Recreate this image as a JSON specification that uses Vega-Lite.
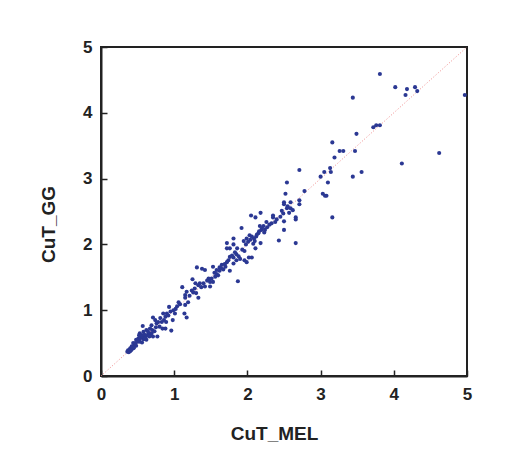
{
  "$schema": "https://vega.github.io/schema/vega-lite/v6.json",
  "width": 366,
  "height": 329,
  "autosize": "none",
  "padding": {"left": 101, "top": 47, "right": 38, "bottom": 74},
  "background": "white",
  "config": {
    "view": {"stroke": "#222222", "strokeWidth": 2},
    "axis": {
      "labelFont": "Liberation Sans",
      "labelFontWeight": "bold",
      "labelFontSize": 17,
      "labelColor": "#222222",
      "labelFlush": false,
      "titleFont": "Liberation Sans",
      "titleFontWeight": "bold",
      "titleFontSize": 19,
      "titleColor": "#222222",
      "domainColor": "#222222",
      "domainWidth": 2,
      "tickColor": "#222222",
      "tickWidth": 1.5,
      "tickSize": -6,
      "grid": false,
      "format": "d"
    }
  },
  "datasets": {
    "pts": [
      {"mel":3.81,"gg":4.59},{"mel":4.02,"gg":4.39},{"mel":4.18,"gg":4.36},{"mel":4.16,"gg":4.27},{"mel":4.29,"gg":4.39},{"mel":4.32,"gg":4.33},{"mel":4.97,"gg":4.27},{"mel":3.44,"gg":4.23},{"mel":3.72,"gg":3.78},{"mel":3.76,"gg":3.81},{"mel":3.81,"gg":3.81},{"mel":3.49,"gg":3.68},{"mel":4.62,"gg":3.39},{"mel":4.11,"gg":3.23},
      {"mel":3.16,"gg":3.55},{"mel":3.26,"gg":3.42},{"mel":3.31,"gg":3.42},{"mel":3.47,"gg":3.42},{"mel":3.19,"gg":3.32},{"mel":3.13,"gg":3.16},{"mel":3.14,"gg":3.10},{"mel":3.05,"gg":3.10},{"mel":3.00,"gg":3.03},{"mel":3.56,"gg":3.10},{"mel":3.44,"gg":3.03},{"mel":3.10,"gg":2.94},
      {"mel":2.71,"gg":3.13},{"mel":2.54,"gg":2.94},{"mel":2.78,"gg":2.81},{"mel":3.03,"gg":2.77},{"mel":3.06,"gg":2.74},{"mel":3.08,"gg":2.74},{"mel":3.16,"gg":2.41},{"mel":2.52,"gg":2.77},{"mel":2.71,"gg":2.67},{"mel":2.71,"gg":2.61},{"mel":2.59,"gg":2.64},{"mel":2.50,"gg":2.64},{"mel":2.50,"gg":2.61},{"mel":2.54,"gg":2.55},{"mel":2.59,"gg":2.55},{"mel":2.66,"gg":2.41},{"mel":2.66,"gg":2.38},{"mel":2.57,"gg":2.48},{"mel":2.47,"gg":2.51},{"mel":2.50,"gg":2.35},{"mel":2.50,"gg":2.22},{"mel":2.43,"gg":2.06},{"mel":2.66,"gg":2.02},
      {"mel":2.35,"gg":2.41},{"mel":2.35,"gg":2.44},{"mel":2.40,"gg":2.38},{"mel":2.33,"gg":2.32},{"mel":2.26,"gg":2.34},{"mel":2.18,"gg":2.48},{"mel":2.05,"gg":2.44},{"mel":2.11,"gg":2.41},{"mel":2.17,"gg":2.28},{"mel":2.22,"gg":2.28},{"mel":2.24,"gg":2.22},{"mel":2.19,"gg":2.22},{"mel":2.15,"gg":2.17},{"mel":2.12,"gg":2.12},{"mel":2.09,"gg":2.09},{"mel":2.03,"gg":2.14},{"mel":1.99,"gg":2.09},{"mel":2.01,"gg":2.04},{"mel":2.08,"gg":2.01},{"mel":2.18,"gg":2.02},{"mel":2.11,"gg":1.94},
      {"mel":1.92,"gg":2.25},{"mel":1.81,"gg":2.09},{"mel":1.72,"gg":2.02},{"mel":1.81,"gg":2.00},{"mel":1.76,"gg":1.94},{"mel":1.72,"gg":1.94},{"mel":1.86,"gg":1.94},{"mel":1.96,"gg":1.90},{"mel":2.02,"gg":1.80},{"mel":2.06,"gg":1.80},{"mel":1.96,"gg":1.76},{"mel":1.99,"gg":1.73},{"mel":1.85,"gg":1.85},{"mel":1.81,"gg":1.80},{"mel":1.76,"gg":1.81},{"mel":1.85,"gg":1.76},{"mel":1.81,"gg":1.71},{"mel":1.74,"gg":1.76},{"mel":1.72,"gg":1.73},{"mel":1.76,"gg":1.60},{"mel":1.65,"gg":1.69},{"mel":1.62,"gg":1.65},{"mel":1.58,"gg":1.61},{"mel":1.53,"gg":1.66},{"mel":1.42,"gg":1.61},{"mel":1.38,"gg":1.63},{"mel":1.31,"gg":1.65},{"mel":1.87,"gg":1.44},
      {"mel":1.60,"gg":1.53},{"mel":1.56,"gg":1.51},{"mel":1.51,"gg":1.48},{"mel":1.47,"gg":1.48},{"mel":1.49,"gg":1.43},{"mel":1.53,"gg":1.43},{"mel":1.40,"gg":1.41},{"mel":1.35,"gg":1.41},{"mel":1.29,"gg":1.41},{"mel":1.25,"gg":1.47},{"mel":1.42,"gg":1.36},{"mel":1.49,"gg":1.36},{"mel":1.26,"gg":1.27},{"mel":1.30,"gg":1.26},{"mel":1.17,"gg":1.28},{"mel":1.11,"gg":1.35},{"mel":1.15,"gg":1.23},{"mel":1.15,"gg":1.19},{"mel":1.33,"gg":1.19},{"mel":1.19,"gg":1.12},{"mel":1.15,"gg":1.08},{"mel":1.06,"gg":1.12},{"mel":1.08,"gg":1.09},{"mel":1.14,"gg":0.95},{"mel":1.17,"gg":0.89},
      {"mel":0.93,"gg":1.05},{"mel":0.99,"gg":1.00},{"mel":1.01,"gg":0.95},{"mel":0.90,"gg":0.95},{"mel":0.85,"gg":0.95},{"mel":0.88,"gg":0.90},{"mel":0.81,"gg":0.88},{"mel":0.98,"gg":0.85},{"mel":0.89,"gg":0.82},{"mel":0.83,"gg":0.82},{"mel":0.71,"gg":0.89},{"mel":0.74,"gg":0.85},{"mel":0.76,"gg":0.80},{"mel":0.80,"gg":0.75},{"mel":0.88,"gg":0.72},{"mel":0.96,"gg":0.69},{"mel":0.84,"gg":0.72},{"mel":0.69,"gg":0.77},{"mel":0.67,"gg":0.72},{"mel":0.57,"gg":0.76},{"mel":0.62,"gg":0.70},{"mel":0.58,"gg":0.67},{"mel":0.53,"gg":0.65},{"mel":0.65,"gg":0.65},{"mel":0.69,"gg":0.65},{"mel":0.71,"gg":0.60},{"mel":0.77,"gg":0.60},{"mel":0.61,"gg":0.60},{"mel":0.56,"gg":0.59},{"mel":0.51,"gg":0.57},{"mel":0.48,"gg":0.55},{"mel":0.53,"gg":0.52},{"mel":0.44,"gg":0.50},{"mel":0.46,"gg":0.47},{"mel":0.42,"gg":0.45},{"mel":0.40,"gg":0.42},{"mel":0.37,"gg":0.39},{"mel":0.40,"gg":0.38},{"mel":0.36,"gg":0.37},{"mel":0.44,"gg":0.42},{"mel":0.48,"gg":0.46},{"mel":0.56,"gg":0.51},{"mel":0.58,"gg":0.56},{"mel":0.62,"gg":0.55},{"mel":0.68,"gg":0.62},{"mel":0.52,"gg":0.62},
      {"mel":0.38,"gg":0.36},{"mel":0.39,"gg":0.40},{"mel":0.41,"gg":0.39},{"mel":0.43,"gg":0.44},{"mel":0.45,"gg":0.43},{"mel":0.47,"gg":0.50},{"mel":0.50,"gg":0.52},{"mel":0.52,"gg":0.55},{"mel":0.54,"gg":0.58},{"mel":0.55,"gg":0.62},{"mel":0.57,"gg":0.60},{"mel":0.59,"gg":0.63},{"mel":0.60,"gg":0.57},{"mel":0.63,"gg":0.62},{"mel":0.64,"gg":0.68},{"mel":0.66,"gg":0.60},{"mel":0.70,"gg":0.70},{"mel":0.73,"gg":0.68},{"mel":0.75,"gg":0.74},{"mel":0.78,"gg":0.82},{"mel":0.86,"gg":0.85},{"mel":0.92,"gg":0.92},{"mel":0.95,"gg":0.98},{"mel":1.02,"gg":1.02},{"mel":1.04,"gg":1.06},
      {"mel":1.21,"gg":1.22},{"mel":1.24,"gg":1.30},{"mel":1.28,"gg":1.33},{"mel":1.33,"gg":1.38},{"mel":1.37,"gg":1.35},{"mel":1.45,"gg":1.45},{"mel":1.55,"gg":1.57},{"mel":1.58,"gg":1.55},{"mel":1.62,"gg":1.60},{"mel":1.64,"gg":1.64},{"mel":1.67,"gg":1.62},{"mel":1.69,"gg":1.70},{"mel":1.70,"gg":1.66},{"mel":1.79,"gg":1.83},{"mel":1.83,"gg":1.88},{"mel":1.88,"gg":1.82},{"mel":1.90,"gg":1.78},{"mel":1.93,"gg":1.92},{"mel":1.95,"gg":2.05},{"mel":1.98,"gg":2.00},{"mel":2.04,"gg":2.07},{"mel":2.06,"gg":2.12},{"mel":2.10,"gg":2.05},{"mel":2.13,"gg":2.15},{"mel":2.16,"gg":2.20},{"mel":2.20,"gg":2.25},{"mel":2.23,"gg":2.18},{"mel":2.27,"gg":2.26},{"mel":2.30,"gg":2.30},{"mel":2.38,"gg":2.34},{"mel":2.45,"gg":2.42},{"mel":2.49,"gg":2.47},{"mel":2.55,"gg":2.58},{"mel":2.62,"gg":2.52}
    ],
    "diag": [{"a": 0}, {"a": 5}]
  },
  "layer": [
    {
      "data": {"name": "diag"},
      "mark": {"type": "line", "color": "#f08a8a", "strokeWidth": 1, "strokeDash": [1, 2]},
      "encoding": {
        "x": {"field": "a", "type": "quantitative"},
        "y": {"field": "a", "type": "quantitative"}
      }
    },
    {
      "data": {"name": "pts"},
      "mark": {"type": "circle", "color": "#2b3893", "opacity": 1, "size": 17},
      "encoding": {
        "x": {
          "field": "mel", "type": "quantitative",
          "scale": {"domain": [0, 5], "nice": false, "zero": false},
          "axis": {"title": "CuT_MEL", "values": [0, 1, 2, 3, 4, 5], "labelPadding": 16, "titlePadding": 22, "titleX": 173}
        },
        "y": {
          "field": "gg", "type": "quantitative",
          "scale": {"domain": [0, 5], "nice": false, "zero": false},
          "axis": {"title": "CuT_GG", "values": [0, 1, 2, 3, 4, 5], "labelPadding": 15, "titlePadding": 24, "titleY": 177}
        }
      }
    }
  ]
}
